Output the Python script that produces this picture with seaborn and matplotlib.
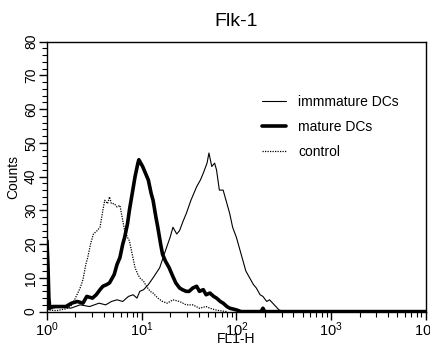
import numpy as np
import pandas as pd
import matplotlib
matplotlib.use("Agg")
import matplotlib.pyplot as plt
import seaborn as sns
from matplotlib.ticker import LogLocator, NullFormatter, MultipleLocator

# ---- data (log10 of FL1-H, counts) ----
imm_log = [0.0, 0.05, 0.15, 0.25, 0.35, 0.45, 0.55, 0.62, 0.68, 0.74, 0.80, 0.86, 0.91, 0.95,
           0.98, 1.02, 1.07, 1.12, 1.19, 1.25, 1.30, 1.33, 1.37, 1.40, 1.44, 1.47, 1.52, 1.58,
           1.62, 1.65, 1.69, 1.71, 1.74, 1.77, 1.79, 1.82, 1.86, 1.89, 1.93, 1.96, 2.00, 2.03,
           2.07, 2.10, 2.14, 2.18, 2.21, 2.25, 2.28, 2.32, 2.35, 2.40, 2.45, 2.50, 4.0]
imm_cnt = [0.5, 1.0, 1.5, 1.0, 2.0, 1.5, 2.5, 2.0, 3.0, 3.5, 3.0, 4.5, 5.0, 4.0,
           6.0, 6.5, 8.0, 10.0, 13.0, 18.0, 22.0, 25.0, 23.0, 24.0, 27.0, 29.0, 33.0, 37.0,
           39.0, 41.0, 44.0, 47.0, 43.0, 44.0, 42.0, 36.0, 36.0, 33.0, 29.0, 25.0, 22.0, 19.0,
           15.0, 12.0, 10.0, 8.0, 7.0, 5.0, 4.5, 3.0, 3.5, 2.0, 0.5, 0.0, 0.0]

mat_log = [0.0, 0.01, 0.02, 0.03, 0.06, 0.12, 0.20, 0.26, 0.32, 0.38, 0.42, 0.48, 0.52, 0.56,
           0.59, 0.63, 0.66, 0.69, 0.71, 0.74, 0.77, 0.80, 0.82, 0.85, 0.87, 0.90, 0.93, 0.96,
           0.97, 0.99, 1.01, 1.04, 1.07, 1.10, 1.12, 1.15, 1.17, 1.20, 1.22, 1.25, 1.29, 1.32,
           1.36, 1.40, 1.43, 1.47, 1.50, 1.54, 1.58, 1.61, 1.65, 1.68, 1.72, 1.76, 1.79, 1.83,
           1.86, 1.90, 1.93, 2.00, 2.05, 2.26, 2.28, 2.30, 4.0]
mat_cnt = [21.0, 14.0, 4.0, 1.0, 1.5, 1.5, 1.5, 2.5, 3.0, 2.5, 4.5, 4.0, 5.0, 6.5,
           7.5, 8.0, 8.5, 10.0, 11.0, 14.0, 16.0, 20.0, 22.0, 26.0, 30.0, 35.0, 40.0, 44.0,
           45.0, 44.0, 43.0, 41.0, 39.0, 35.0, 33.0, 28.0, 25.0, 20.0, 17.0, 15.0, 13.0, 11.0,
           8.5, 7.0, 6.5, 6.0, 6.0, 7.0, 7.5, 6.0, 6.5, 5.0, 5.5, 4.5, 4.0, 3.0,
           2.5, 1.5, 1.0, 0.5, 0.0, 0.0, 1.0, 0.0, 0.0]

ctl_log = [0.0, 0.10, 0.20, 0.25, 0.30, 0.35, 0.38, 0.41, 0.43, 0.46, 0.49, 0.53, 0.56, 0.59,
           0.61, 0.64, 0.66, 0.68, 0.71, 0.74, 0.77, 0.80, 0.82, 0.85, 0.87, 0.90, 0.93, 0.96,
           0.98, 1.02, 1.05, 1.09, 1.12, 1.17, 1.22, 1.27, 1.33, 1.40, 1.47, 1.54, 1.61, 1.68,
           1.72, 1.78, 1.82, 1.90]
ctl_cnt = [0.5, 0.3, 0.8, 1.5, 4.0, 7.0, 9.5, 14.0, 16.0, 20.0, 23.0, 24.0, 25.0, 30.0,
           33.0, 32.0, 34.0, 32.0, 32.0, 31.0, 31.5, 27.0, 24.0, 22.0, 21.0, 17.0, 13.0, 11.0,
           10.0, 9.0, 7.5, 6.0, 5.5, 4.0, 3.0, 2.5, 3.5, 3.0, 2.0, 2.0, 1.0, 1.5,
           1.0, 0.5, 0.3, 0.0]

labels = ["immmature DCs", "mature DCs", "control"]
x_tick_exps = [0, 1, 2, 3, 4]
y_ticks = [0, 10, 20, 30, 40, 50, 60, 70, 80]

frames = []
for lab, lg, ct in zip(labels, [imm_log, mat_log, ctl_log], [imm_cnt, mat_cnt, ctl_cnt]):
    frames.append(pd.DataFrame({"FL1-H": np.power(10.0, lg), "Counts": ct, "sample": lab}))
df = pd.concat(frames, ignore_index=True)

sns.set_theme(style="ticks")
plt.rcParams["font.family"] = ["Liberation Sans", "DejaVu Sans"]
plt.rcParams["mathtext.default"] = "regular"

fig = plt.figure(figsize=(4.31, 3.47), dpi=100)
ax = fig.add_axes([0.109, 0.102, 0.879, 0.778])

styles = {
    "immmature DCs": dict(lw=0.8, ls="-"),
    "mature DCs": dict(lw=2.6, ls="-"),
    "control": dict(lw=0.9, ls=(0, (1, 1))),
}
for lab in labels:
    sub = df[df["sample"] == lab]
    sns.lineplot(data=sub, x="FL1-H", y="Counts", ax=ax, color="black",
                 linewidth=styles[lab]["lw"], linestyle=styles[lab]["ls"],
                 label=lab, estimator=None, sort=False)

ax.set_xscale("log")
ax.set_xlim(1, 1e4)
ax.set_ylim(0, 80)
ax.set_xticks([10.0 ** e for e in x_tick_exps])
ax.set_xticklabels([r"$10^{%d}$" % e for e in x_tick_exps], fontsize=10.5)
ax.xaxis.set_minor_locator(LogLocator(base=10, subs=np.arange(2, 10)))
ax.xaxis.set_minor_formatter(NullFormatter())
ax.set_yticks(y_ticks)
ax.set_yticklabels([str(v) for v in y_ticks], rotation=90, va="center", fontsize=10)
ax.yaxis.set_minor_locator(MultipleLocator(2))

for s in ax.spines.values():
    s.set_color("black")
    s.set_linewidth(1.0)
ax.tick_params(axis="both", which="major", direction="out", length=5.5, width=1, color="black",
               labelcolor="black", pad=1)
ax.tick_params(axis="both", which="minor", direction="out", length=3.5, width=0.8, color="black")

ax.set_xlabel("FL1-H", fontsize=10, labelpad=-5, color="black")
ax.set_ylabel("Counts", fontsize=10, labelpad=3, color="black")
ax.set_title("Flk-1", fontsize=14, pad=11, color="black")

leg = ax.legend(loc="upper left", bbox_to_anchor=(0.535, 0.85), frameon=False, fontsize=10,
                handlelength=1.7, handletextpad=0.9, labelspacing=0.8)
for t in leg.get_texts():
    t.set_color("black")

fig.savefig("out.png", dpi=100)
